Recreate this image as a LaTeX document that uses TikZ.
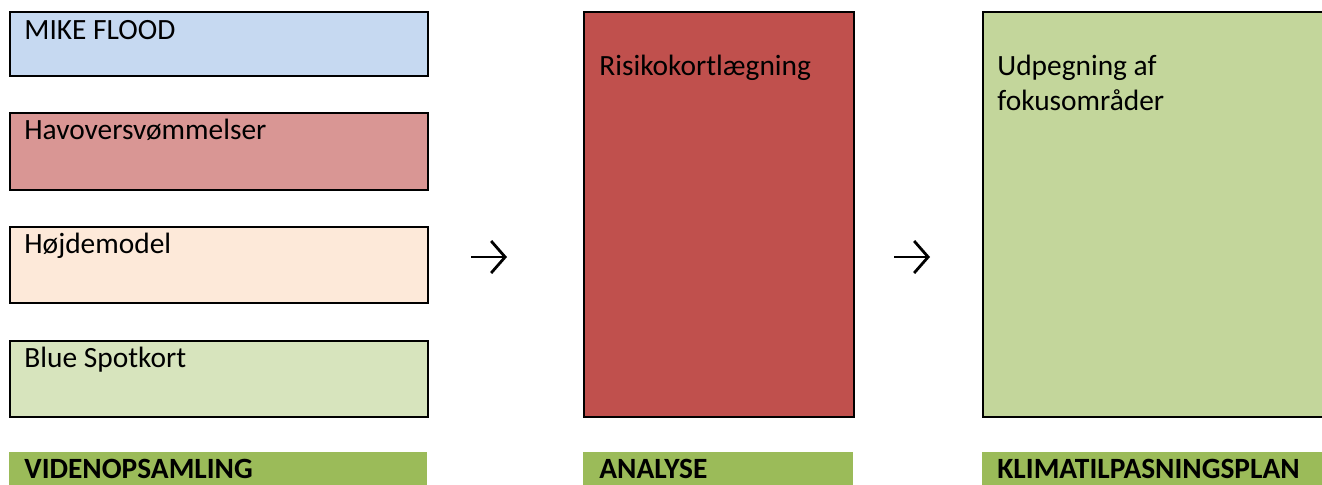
\documentclass[tikz,border=0pt]{standalone}
\usepackage{fontspec}
\setmainfont{Carlito}
\usepackage{tikz}
\usetikzlibrary{
  arrows.meta,
  positioning,
  calc
}
\definecolor{kpMike}{HTML}{C6D9F1}
\definecolor{kpHavo}{HTML}{D99694}
\definecolor{kpHojde}{HTML}{FDE9D9}
\definecolor{kpSpot}{HTML}{D7E4BD}
\definecolor{kpRisiko}{HTML}{C0504D}
\definecolor{kpFokus}{HTML}{C3D69B}
\definecolor{kpBar}{HTML}{9BBB59}
\tikzset{
  kpbox/.style={
    draw=black, line width=1pt, anchor=north west, inner sep=0pt
  },
  kpbar/.style={fill=kpBar, anchor=north west, inner sep=0pt, minimum height=19pt},
  kptext/.style={anchor=base west, inner sep=0pt, align=left,
    font=\fontsize{14.7}{17.5}\selectfont},
  kphead/.style={kptext, font=\fontsize{14.7}{17.5}\selectfont\bfseries},
  kparrow/.style={-{Straight Barb[length=7pt, width=16pt]}, line width=1.4pt, black}
}

\begin{document}
\begin{tikzpicture}[x=0.5pt, y=-0.5pt]
  \clip (0,0) rectangle (1322,484);
  % inputs
  \node[kpbox, fill=kpMike, minimum width=209pt, minimum height=32pt] (mike) at (9,11) {};
  \node[kpbox, fill=kpHavo, minimum width=209pt, minimum height=38.5pt] (havo) at (9,112) {};
  \node[kpbox, fill=kpHojde, minimum width=209pt, minimum height=38pt] (hojde) at (9,226) {};
  \node[kpbox, fill=kpSpot, minimum width=209pt, minimum height=38pt] (spot) at (9,340) {};
  \node[kptext] (mikeT) at ($(mike.north west)+(15,28)$) {MIKE FLOOD};
  \node[kptext] (havoT) at ($(havo.north west)+(15,27)$) {Havoversvømmelser};
  \node[kptext] (hojdeT) at ($(hojde.north west)+(15,27)$) {Højdemodel};
  \node[kptext] (spotT) at ($(spot.north west)+(15,27)$) {Blue Spotkort};
  % analysis and plan
  \node[kpbox, fill=kpRisiko, minimum width=135pt, minimum height=202.5pt] (risiko) at (583,11) {};
  \node[kpbox, fill=kpFokus, minimum width=176pt, minimum height=202.5pt] (fokus) at (982,11) {};
  \node[kptext] (risikoT) at ($(risiko.north west)+(16,64)$) {Risikokortlægning};
  \node[kptext] (fokusT) at ($(fokus.north west)+(15,99)$) {Udpegning af\\fokusområder};
  % arrows
  \coordinate (arrA) at (471,257);
  \coordinate (arrB) at (894,257);
  \draw[kparrow] (arrA) -- ++(36,0);
  \draw[kparrow] (arrB) -- ++(36,0);
  % phase bars
  \node[kpbar, minimum width=209pt] (viden) at (9,452) {};
  \node[kpbar, minimum width=135pt] (analyse) at (583,452) {};
  \node[kpbar, minimum width=176pt] (klima) at (982,452) {};
  \node[kphead] (videnT) at ($(viden.north west)+(15,26)$) {VIDENOPSAMLING};
  \node[kphead] (analyseT) at ($(analyse.north west)+(16,26)$) {ANALYSE};
  \node[kphead] (klimaT) at ($(klima.north west)+(15,26)$) {KLIMATILPASNINGSPLAN};
\end{tikzpicture}
\end{document}
